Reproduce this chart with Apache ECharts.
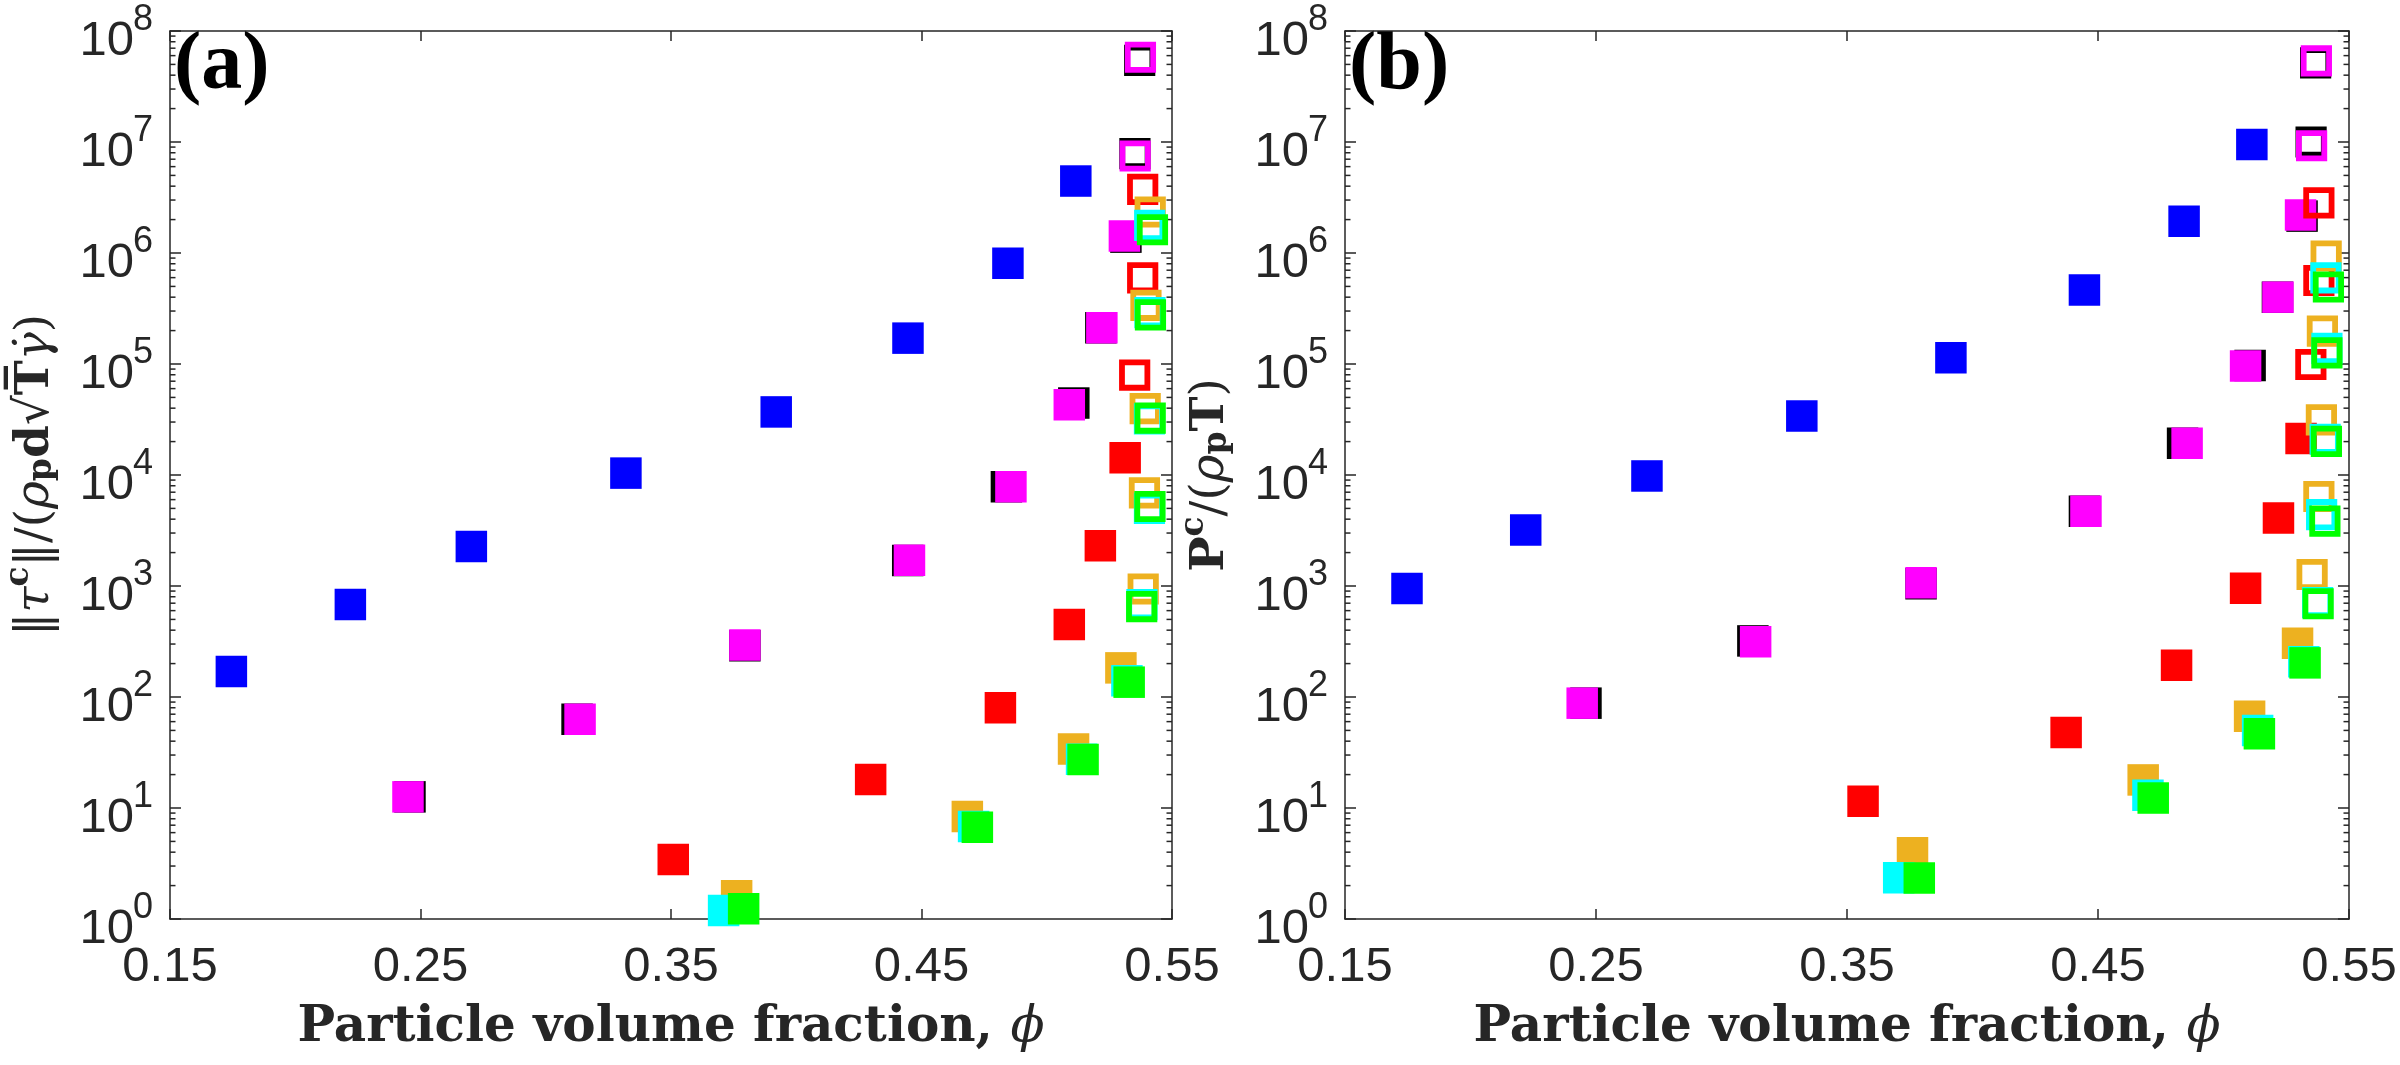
<!DOCTYPE html>
<html>
<head>
<meta charset="utf-8">
<script src="https://cdn.jsdelivr.net/npm/echarts@6/dist/echarts.min.js"></script>
<style>html,body{margin:0;padding:0;background:#fff}#c{width:2400px;height:1065px}</style>
</head>
<body>
<div id="c"></div>
<script>
// ---------- tick labels ----------
const xTicks = [0.15, 0.25, 0.35, 0.45, 0.55];
const yDecades = [0, 1, 2, 3, 4, 5, 6, 7, 8];
const minorMultipliers = [2, 3, 4, 5, 6, 7, 8, 9];

// ---------- panel (a): ||tau^c|| / (rho_p d sqrt(T) gammadot) ----------
const aBlue    = [[0.1745,170],[0.222,680],[0.2703,2270],[0.332,1.04e4],[0.392,3.7e4],[0.4446,1.71e5],[0.4845,8.07e5],[0.5116,4.45e6]];
const aBlack   = [[0.2458,12.6],[0.3125,63],[0.3795,290],[0.4445,1.7e3],[0.4839,7.85e3],[0.5108,4.45e4],[0.5216,2.12e5],[0.5316,1.39e6]];
const aMagenta = [[0.245,12.6],[0.3137,63],[0.3795,294],[0.4452,1.71e3],[0.4857,7.85e3],[0.509,4.3e4],[0.522,2.12e5],[0.531,1.42e6]];
const aRed     = [[0.3509,3.44],[0.4297,18.1],[0.4815,80],[0.509,450],[0.5214,2.3e3],[0.5313,1.43e4]];
const aOrange  = [[0.3762,1.62],[0.4683,8.4],[0.5107,34],[0.5296,183]];
const aCyan    = [[0.371,1.19],[0.4708,6.8],[0.5139,27.5],[0.532,140]];
const aGreen   = [[0.379,1.24],[0.4723,6.7],[0.5145,27.3],[0.5329,136]];
const aBlackH   = [[0.5371,5.44e7],[0.5352,7.87e6]];
const aMagentaH = [[0.5374,5.8e7],[0.5353,7.48e6]];
const aRedH     = [[0.5383,3.74e6],[0.5383,5.98e5],[0.5351,7.95e4]];
const aOrangeH  = [[0.5413,2.34e6],[0.5396,3.38e5],[0.5393,3.96e4],[0.539,6.9e3],[0.5385,940]];
const aCyanH    = [[0.5411,1.77e6],[0.5412,2.9e5],[0.541,3.2e4],[0.541,5.0e3],[0.538,680]];
const aGreenH   = [[0.5422,1.62e6],[0.5414,2.77e5],[0.5413,3.26e4],[0.5412,5.2e3],[0.5379,653]];

// ---------- panel (b): P^c / (rho_p T) ----------
const bBlue    = [[0.1747,950],[0.222,3.2e3],[0.2703,9.8e3],[0.332,3.4e4],[0.3914,1.14e5],[0.4446,4.65e5],[0.4843,1.93e6],[0.5113,9.5e6]];
const bBlack   = [[0.246,88],[0.3125,320],[0.3795,1.05e3],[0.4446,4.71e3],[0.4837,1.93e4],[0.5106,9.7e4],[0.5215,4.0e5],[0.5313,2.15e6]];
const bMagenta = [[0.2445,88],[0.3136,315],[0.3795,1.07e3],[0.4452,4.71e3],[0.4855,1.93e4],[0.5088,9.6e4],[0.5217,4.0e5],[0.5307,2.2e6]];
const bRed     = [[0.3564,11.5],[0.4373,48],[0.4813,193],[0.5088,955],[0.5219,4.1e3],[0.5309,2.13e4]];
const bOrange  = [[0.3761,3.95],[0.468,17.9],[0.5104,67],[0.5295,305]];
const bCyan    = [[0.3706,2.35],[0.4699,13],[0.5136,50],[0.532,208]];
const bGreen   = [[0.3788,2.34],[0.472,12.3],[0.5143,46.6],[0.5325,203]];
const bBlackH   = [[0.5367,5.17e7],[0.5349,1.0e7]];
const bMagentaH = [[0.537,5.37e7],[0.5351,9.25e6]];
const bRedH     = [[0.538,2.83e6],[0.538,5.65e5],[0.5348,9.9e4]];
const bOrangeH  = [[0.5409,9.4e5],[0.5394,1.98e5],[0.539,3.14e4],[0.538,6.4e3],[0.5353,1.27e3]];
const bCyanH    = [[0.5408,5.98e5],[0.5412,1.38e5],[0.5405,2.1e4],[0.5391,4.39e3],[0.5375,710]];
const bGreenH   = [[0.5418,4.94e5],[0.5412,1.26e5],[0.541,2.01e4],[0.5404,3.84e3],[0.5377,692]];

const C = {blue:'#0000ff', black:'#000000', magenta:'#ff00ff', red:'#ff0000', orange:'#edb120', cyan:'#00ffff', green:'#00ff00'};
const AX = '#262626';
const SANS = '"Liberation Sans", Arial, sans-serif';
const SERIF = '"Liberation Serif", "Times New Roman", serif';
const DSERIF = '"DejaVu Serif", serif';

const minorValues = [];
yDecades.slice(0, -1).forEach(d => minorMultipliers.forEach(m => minorValues.push([0.35, m * Math.pow(10, d)])));

const chart = echarts.init(document.getElementById('c'), null, {renderer: 'canvas'});

function xAx(grid, top) {
  return {
    type: 'value', gridIndex: grid, position: top ? 'top' : 'bottom',
    min: xTicks[0], max: xTicks[xTicks.length - 1], interval: 0.1,
    axisLine: {show: true, onZero: false, lineStyle: {color: AX, width: 1.5}},
    axisTick: {show: true, inside: true, length: 10, lineStyle: {color: AX, width: 1.5}},
    splitLine: {show: false},
    axisLabel: {show: !top, margin: 24, fontSize: 49, fontFamily: SANS, color: AX,
      formatter: v => v.toFixed(2)},
    name: top ? '' : '{b|Particle volume fraction, }{i|\u03d5}',
    nameLocation: 'middle', nameGap: 84,
    nameTextStyle: {color: AX, rich: {
      b: {fontFamily: DSERIF, fontWeight: 'bold', fontSize: 50, color: AX},
      i: {fontFamily: DSERIF, fontStyle: 'italic', fontSize: 50, color: AX}
    }}
  };
}

// kind: 'base' (left, "10" labels, line+ticks), 'sup' (left, exponent labels only), 'right' (mirror box side)
function yAx(grid, kind, nameRich) {
  const isBase = kind === 'base', isSup = kind === 'sup', isRight = kind === 'right';
  const ax = {
    type: 'log', logBase: 10, gridIndex: grid, position: isRight ? 'right' : 'left',
    min: 1, max: 1e8, interval: 1,
    axisLine: {show: !isSup, onZero: false, lineStyle: {color: AX, width: 1.5}},
    axisTick: {show: !isSup, inside: true, length: 11, lineStyle: {color: AX, width: 1.5}},
    splitLine: {show: false},
    axisLabel: {show: !isRight}
  };
  if (isBase) {
    // text middle sits 10px below the tick
    ax.axisLabel = {show: true, margin: 36, fontSize: 49, fontFamily: SANS, color: AX,
      verticalAlign: 'top', lineHeight: 20, formatter: () => '10'};
    ax.name = nameRich.text;
    ax.nameLocation = 'middle';
    ax.nameRotate = 90;
    ax.nameGap = nameRich.gap;
    ax.nameTextStyle = {rich: nameRich.rich, color: AX};
  } else if (isSup) {
    // exponent: text middle sits ~10px above the tick
    ax.axisLabel = {show: true, margin: 17, fontSize: 36, fontFamily: SANS, color: AX,
      verticalAlign: 'bottom', lineHeight: 21, formatter: v => String(Math.round(Math.log10(v)))};
  }
  return ax;
}

const nameRichStyles = {
  n:  {fontFamily: DSERIF, fontSize: 47, color: AX, verticalAlign: 'bottom', lineHeight: 56},
  it: {fontFamily: DSERIF, fontSize: 47, fontStyle: 'italic', color: AX, verticalAlign: 'bottom', lineHeight: 56},
  bd: {fontFamily: DSERIF, fontSize: 47, fontWeight: 'bold', color: AX, verticalAlign: 'bottom', lineHeight: 56},
  sp: {fontFamily: DSERIF, fontSize: 33, fontWeight: 'bold', color: AX, verticalAlign: 'top', lineHeight: 33, padding: [0, 0, 23, 0]},
  sb: {fontFamily: DSERIF, fontSize: 33, fontWeight: 'bold', color: AX, verticalAlign: 'bottom', lineHeight: 33}
};
const nameA = {text: '{n|\u2016}{it|\u03c4}{sp|c}{n|\u2016/(}{it|\u03c1}{sb|p}{bd|d}{n|\u221a}{bd|T\u0305}{it|\u03b3\u0307}{n|)}', rich: nameRichStyles, gap: 111};
const nameB = {text: '{bd|P}{sp|c}{n|/(}{it|\u03c1}{sb|p}{bd|T}{n|)}', rich: nameRichStyles, gap: 111};

function minorSeries(xi, yi) {
  return {
    type: 'custom', xAxisIndex: xi, yAxisIndex: yi, silent: true, z: 1,
    data: minorValues,
    renderItem: (params, api) => {
      const v = api.value(1);
      const l = api.coord([xTicks[0], v]);
      const r = api.coord([xTicks[xTicks.length - 1], v]);
      const st = {stroke: AX, lineWidth: 1.5};
      return {type: 'group', children: [
        {type: 'line', shape: {x1: l[0], y1: l[1], x2: l[0] + 5.5, y2: l[1]}, style: st},
        {type: 'line', shape: {x1: r[0] - 5.5, y1: r[1], x2: r[0], y2: r[1]}, style: st}
      ]};
    }
  };
}

function sc(data, color, hollow, xi, yi) {
  return {
    type: 'scatter', xAxisIndex: xi, yAxisIndex: yi, data: data, silent: true,
    symbol: 'rect', symbolSize: hollow ? 25.4 : 31.5,
    itemStyle: hollow ? {color: 'rgba(0,0,0,0)', borderColor: color, borderWidth: 5.8, opacity: 1}
                      : {color: color, opacity: 1},
    emphasis: {disabled: true}
  };
}

function panelSeries(d, xi, yi) {
  return [
    minorSeries(xi, yi),
    sc(d.blue, C.blue, false, xi, yi),
    sc(d.black, C.black, false, xi, yi),
    sc(d.magenta, C.magenta, false, xi, yi),
    sc(d.red, C.red, false, xi, yi),
    sc(d.orange, C.orange, false, xi, yi),
    sc(d.cyan, C.cyan, false, xi, yi),
    sc(d.green, C.green, false, xi, yi),
    sc(d.blackH, C.black, true, xi, yi),
    sc(d.magentaH, C.magenta, true, xi, yi),
    sc(d.redH, C.red, true, xi, yi),
    sc(d.orangeH, C.orange, true, xi, yi),
    sc(d.cyanH, C.cyan, true, xi, yi),
    sc(d.greenH, C.green, true, xi, yi)
  ];
}

const option = {
  animation: false,
  backgroundColor: '#ffffff',
  grid: [
    {left: 170, right: 1228, top: 31, bottom: 146},
    {left: 1345, right: 51, top: 31, bottom: 146}
  ],
  xAxis: [xAx(0, false), xAx(0, true), xAx(1, false), xAx(1, true)],
  yAxis: [
    yAx(0, 'base', nameA), yAx(0, 'sup'), yAx(0, 'right'),
    yAx(1, 'base', nameB), yAx(1, 'sup'), yAx(1, 'right')
  ],
  series: [].concat(
    panelSeries({blue: aBlue, black: aBlack, magenta: aMagenta, red: aRed, orange: aOrange, cyan: aCyan, green: aGreen,
      blackH: aBlackH, magentaH: aMagentaH, redH: aRedH, orangeH: aOrangeH, cyanH: aCyanH, greenH: aGreenH}, 0, 0),
    panelSeries({blue: bBlue, black: bBlack, magenta: bMagenta, red: bRed, orange: bOrange, cyan: bCyan, green: bGreen,
      blackH: bBlackH, magentaH: bMagentaH, redH: bRedH, orangeH: bOrangeH, cyanH: bCyanH, greenH: bGreenH}, 2, 3)
  ),
  graphic: [
    {type: 'text', left: 174, top: 26, style: {text: '(a)', fontFamily: SERIF, fontWeight: 'bold', fontSize: 82, fill: '#000'}},
    {type: 'text', left: 1349, top: 26, style: {text: '(b)', fontFamily: SERIF, fontWeight: 'bold', fontSize: 82, fill: '#000'}}
  ]
};
chart.setOption(option);
</script>
</body>
</html>
